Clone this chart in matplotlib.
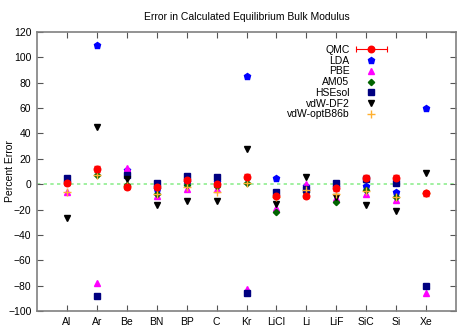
import matplotlib
matplotlib.use("Agg")
import matplotlib.pyplot as plt
import numpy as np
from matplotlib.legend_handler import HandlerBase
from matplotlib.lines import Line2D

categories = ["Al", "Ar", "Be", "BN", "BP", "C", "Kr", "LiCl", "Li", "LiF", "SiC", "Si", "Xe"]

qmc = [1, 12, -2, -2, 3, 0, 6, -9, -9, -3, 5, 5, -7]
qmc_err = [2, 2, 2, 2, 2, 2, 2, 2, 2, 2, 2, 2, 2]
lda = [2, 110, 11, -4, 2, 1.5, 85, 4.5, -1.5, -2, -1.5, -6.5, 60]
pbe = [-6.5, -78, 13, -9, -4, -4, -83, -19, 0.5, -11, -7.5, -12.5, -86]
am05 = [1.5, 7, -1, -8, -1, -1.5, 1, -22, -6, -14, -4.5, -10, -7]
hsesol = [4.5, -88, 7, 1, 6.5, 6, -86, -6, -4, 1, 4, 1, -80]
vdw_df2 = [-27, 45, 4, -16.5, -13, -13, 28, -16, 6, -10, -16.5, -21, 9]
vdw_optb86b = [-6, 7, -1.5, -8, -2, -6.5, 1, -10.5, -4.5, -8, -5, -10, -7]

x = np.arange(1, len(categories) + 1)


class HandlerXErr(HandlerBase):
    def create_artists(self, legend, orig_handle, xdescent, ydescent, width,
                       height, fontsize, trans):
        y = height / 2.0 - ydescent
        x0, x1 = -xdescent, width - xdescent
        c = orig_handle.get_color()
        line = Line2D([x0, x1], [y, y], color=c, lw=0.8, transform=trans)
        caps = Line2D([x0, x1], [y, y], color=c, ls='none', marker='|',
                      ms=4, mew=0.8, transform=trans)
        mk = Line2D([(x0 + x1) / 2], [y], color=c, ls='none', marker='o',
                    ms=orig_handle.get_markersize(), transform=trans)
        return [line, caps, mk]


plt.rcParams['font.family'] = ['Liberation Sans', 'DejaVu Sans']
fig = plt.figure(figsize=(4.75, 3.32), dpi=100)
ax = fig.add_axes([37/475, 1 - 311/332, (456-37)/475, (311-32)/332])

ax.axhline(0, color='#90ee90', lw=1.2, ls=(0, (2, 2)), zorder=1)

ms = 4.2
ax.errorbar(x, qmc, yerr=qmc_err, fmt='o', color='red', ms=ms+0.5, capsize=2,
            elinewidth=0.8, zorder=3)
qmc_proxy = Line2D([], [], color='red', marker='o', ms=ms+0.5)
h_lda, = ax.plot(x, lda, 'p', color='blue', ms=ms+0.5, ls='none', label='LDA', zorder=3)
h_pbe, = ax.plot(x, pbe, '^', color='magenta', ms=ms, ls='none', label='PBE', zorder=3)
h_am, = ax.plot(x, am05, 'D', color='#006400', ms=ms-1, ls='none', label='AM05', zorder=3)
h_hse, = ax.plot(x, hsesol, 's', color='#000080', ms=ms+0.5, ls='none', label='HSEsol', zorder=3)
h_df2, = ax.plot(x, vdw_df2, 'v', color='black', ms=ms, ls='none', label='vdW-DF2', zorder=3)
h_opt, = ax.plot(x, vdw_optb86b, '+', color='#ffb030', ms=ms+1, mew=1, ls='none',
                 label='vdW-optB86b', zorder=3)

ax.set_xlim(0, 14)
ax.set_ylim(-100, 120)
ax.set_xticks(x)
ax.set_xticklabels(categories)
ax.set_yticks(np.arange(-100, 121, 20))
ax.tick_params(direction='in', top=True, right=True, labelsize=7.5, length=4,
               width=0.8, color='#555555', pad=4)
for s in ax.spines.values():
    s.set_color('#808080')
    s.set_linewidth(1.2)

ax.set_title('Error in Calculated Equilibrium Bulk Modulus', fontsize=7.5, pad=9)
ax.set_ylabel('Percent Error', fontsize=7.5)
ax.yaxis.set_label_coords(-0.053, 0.5)

handles = [qmc_proxy, h_lda, h_pbe, h_am, h_hse, h_df2, h_opt]
labels = ['QMC', 'LDA', 'PBE', 'AM05', 'HSEsol', 'vdW-DF2', 'vdW-optB86b']
leg = ax.legend(handles, labels, loc='upper right',
                bbox_to_anchor=((387-37)/419, (311-45)/279),
                markerfirst=False, frameon=False, fontsize=7.5, handlelength=3,
                handletextpad=0.6, labelspacing=0.07, borderpad=0, borderaxespad=0,
                numpoints=1, handler_map={qmc_proxy: HandlerXErr()})

fig.savefig('out.png', dpi=100)
